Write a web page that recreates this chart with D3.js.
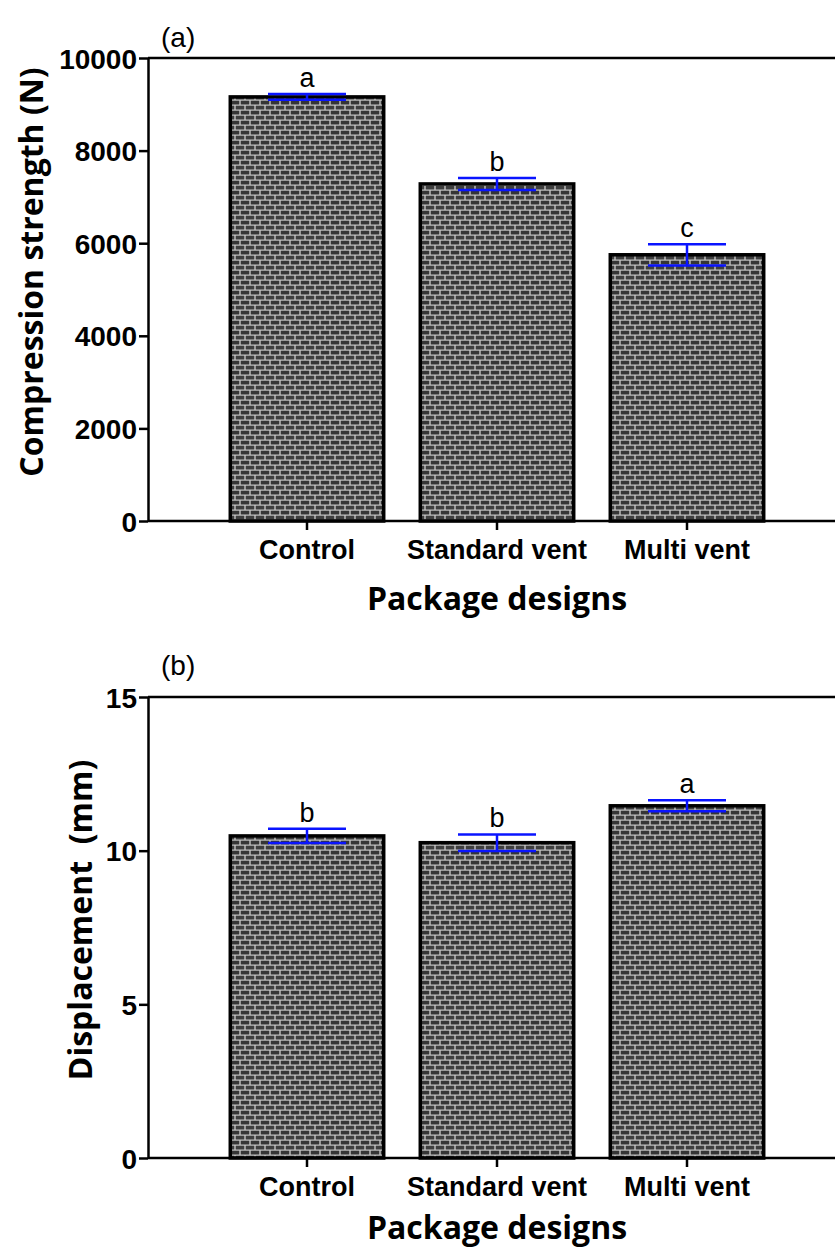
<!DOCTYPE html>
<html>
<head>
<meta charset="utf-8">
<script src="https://cdn.jsdelivr.net/npm/d3@7"></script>
<style>
  html, body { margin: 0; padding: 0; background: #fff; }
  svg { display: block; }
</style>
</head>
<body>
<svg id="chart" width="835" height="1254"></svg>
<script>
// Package designs compared in both panels
const categories = ["Control", "Standard vent", "Multi vent"];

// (a) compression strength, N
const strengthMean = [9160, 7280, 5750];
const strengthErr  = [60, 130, 230];
const strengthLetters = ["a", "b", "c"];
const strengthTicks = [0, 2000, 4000, 6000, 8000, 10000];

// (b) displacement, mm
const dispMean = [10.48, 10.26, 11.46];
const dispErr  = [0.23, 0.27, 0.18];
const dispLetters = ["b", "b", "a"];
const dispTicks = [0, 5, 10, 15];

const svg = d3.select("#chart");
const SANS = "'Liberation Sans', Arial, sans-serif";
const TITLE = "'Open Sans', sans-serif";

// Brick hatch used as the bar fill
const defs = svg.append("defs");
const pat = defs.append("pattern")
  .attr("id", "brick")
  .attr("patternUnits", "userSpaceOnUse")
  .attr("width", 10).attr("height", 10);
pat.append("rect").attr("width", 10).attr("height", 10).attr("fill", "#c4c4c4");
pat.append("rect").attr("x", 0.7).attr("y", 0.7).attr("width", 8.6).attr("height", 3.8).attr("fill", "#353535");
pat.append("rect").attr("x", -4.3).attr("y", 5.7).attr("width", 8.6).attr("height", 3.8).attr("fill", "#3e3e3e");
pat.append("rect").attr("x", 5.7).attr("y", 5.7).attr("width", 8.6).attr("height", 3.8).attr("fill", "#3e3e3e");

const axisLeft = 148, axisRight = 835;
const x = d3.scaleBand()
  .domain(categories)
  .range([212, 782])
  .paddingInner(0.174)
  .paddingOuter(0.087);

function panel(opt) {
  const g = svg.append("g");
  const y = d3.scaleLinear().domain(opt.domain).range([opt.y0, opt.y1]);

  // bars
  g.selectAll("rect.bar").data(categories).join("rect")
    .attr("class", "bar")
    .attr("x", d => x(d) + 1.75)
    .attr("width", x.bandwidth() - 3.5)
    .attr("y", (d, i) => y(opt.mean[i]))
    .attr("height", (d, i) => y(0) - y(opt.mean[i]))
    .attr("fill", "url(#brick)")
    .attr("stroke", "#000")
    .attr("stroke-width", 3.5);

  // error bars
  const cap = 39;
  const cx = d => x(d) + x.bandwidth() / 2;
  const eb = g.selectAll("g.err").data(categories).join("g")
    .attr("class", "err")
    .attr("stroke", "#0a14ff")
    .attr("stroke-width", 2.5)
    .attr("fill", "none");
  eb.append("line")
    .attr("x1", cx).attr("x2", cx)
    .attr("y1", (d, i) => y(opt.mean[i] + opt.err[i]))
    .attr("y2", (d, i) => y(opt.mean[i] - opt.err[i]));
  eb.append("line")
    .attr("x1", d => cx(d) - cap).attr("x2", d => cx(d) + cap)
    .attr("y1", (d, i) => y(opt.mean[i] + opt.err[i]))
    .attr("y2", (d, i) => y(opt.mean[i] + opt.err[i]));
  eb.append("line")
    .attr("x1", d => cx(d) - cap).attr("x2", d => cx(d) + cap)
    .attr("y1", (d, i) => y(opt.mean[i] - opt.err[i]))
    .attr("y2", (d, i) => y(opt.mean[i] - opt.err[i]));

  // significance letters
  g.selectAll("text.sig").data(categories).join("text")
    .attr("class", "sig")
    .attr("x", cx)
    .attr("y", (d, i) => y(opt.mean[i] + opt.err[i]) - 7)
    .attr("text-anchor", "middle")
    .attr("font-family", SANS)
    .attr("font-size", 27)
    .text((d, i) => opt.letters[i]);

  // y axis
  const ya = g.append("g")
    .attr("transform", `translate(${axisLeft},0)`)
    .call(d3.axisLeft(y).tickValues(opt.ticks).tickFormat(d3.format("d"))
      .tickSize(9).tickSizeOuter(0).tickPadding(2));
  ya.select(".domain").attr("stroke-width", 2.5);
  ya.selectAll(".tick line").attr("stroke-width", 2.5);
  ya.selectAll(".tick text")
    .attr("font-family", SANS)
    .attr("font-weight", "bold")
    .attr("font-size", 28)
    .attr("dy", "0.36em")
    .attr("fill", "#000");

  // top frame line
  g.append("line")
    .attr("x1", axisLeft).attr("x2", axisRight)
    .attr("y1", y(opt.domain[1])).attr("y2", y(opt.domain[1]))
    .attr("stroke", "#000").attr("stroke-width", 2.5);

  // x axis
  const xa = g.append("g")
    .attr("transform", `translate(0,${y(0)})`)
    .call(d3.axisBottom(x).tickSize(9).tickSizeOuter(0).tickPadding(10));
  xa.select(".domain").attr("d", `M${axisLeft},0H${axisRight}`).attr("stroke-width", 2.5);
  xa.selectAll(".tick line").attr("stroke-width", 2.5);
  xa.selectAll(".tick text")
    .attr("font-family", SANS)
    .attr("font-weight", "bold")
    .attr("font-size", 27)
    .attr("fill", "#000");

  // axis titles
  g.append("text")
    .attr("x", 497).attr("y", y(0) + opt.xTitleDy)
    .attr("text-anchor", "middle")
    .attr("font-family", TITLE)
    .attr("font-weight", "bold")
    .attr("font-size", 32)
    .text("Package designs");

  g.append("text")
    .attr("transform", `translate(${opt.titleX},${opt.titleY}) rotate(-90)`)
    .attr("text-anchor", "middle")
    .attr("font-family", TITLE)
    .attr("font-weight", "bold")
    .attr("font-size", 32)
    .attr("xml:space", "preserve")
    .text(opt.title);

  // panel tag
  g.append("text")
    .attr("x", 161).attr("y", opt.tagY)
    .attr("font-family", SANS)
    .attr("font-size", 28)
    .text(opt.tag);
}

panel({
  domain: [0, 10000], y0: 521, y1: 58,
  mean: strengthMean, err: strengthErr, letters: strengthLetters, ticks: strengthTicks,
  title: "Compression strength (N)", titleX: 43, titleY: 272, xTitleDy: 89,
  tag: "(a)", tagY: 47
});

panel({
  domain: [0, 15], y0: 1158, y1: 697,
  mean: dispMean, err: dispErr, letters: dispLetters, ticks: dispTicks,
  title: "Displacement  (mm)", titleX: 92, titleY: 920, xTitleDy: 81,
  tag: "(b)", tagY: 675
});
</script>
</body>
</html>
